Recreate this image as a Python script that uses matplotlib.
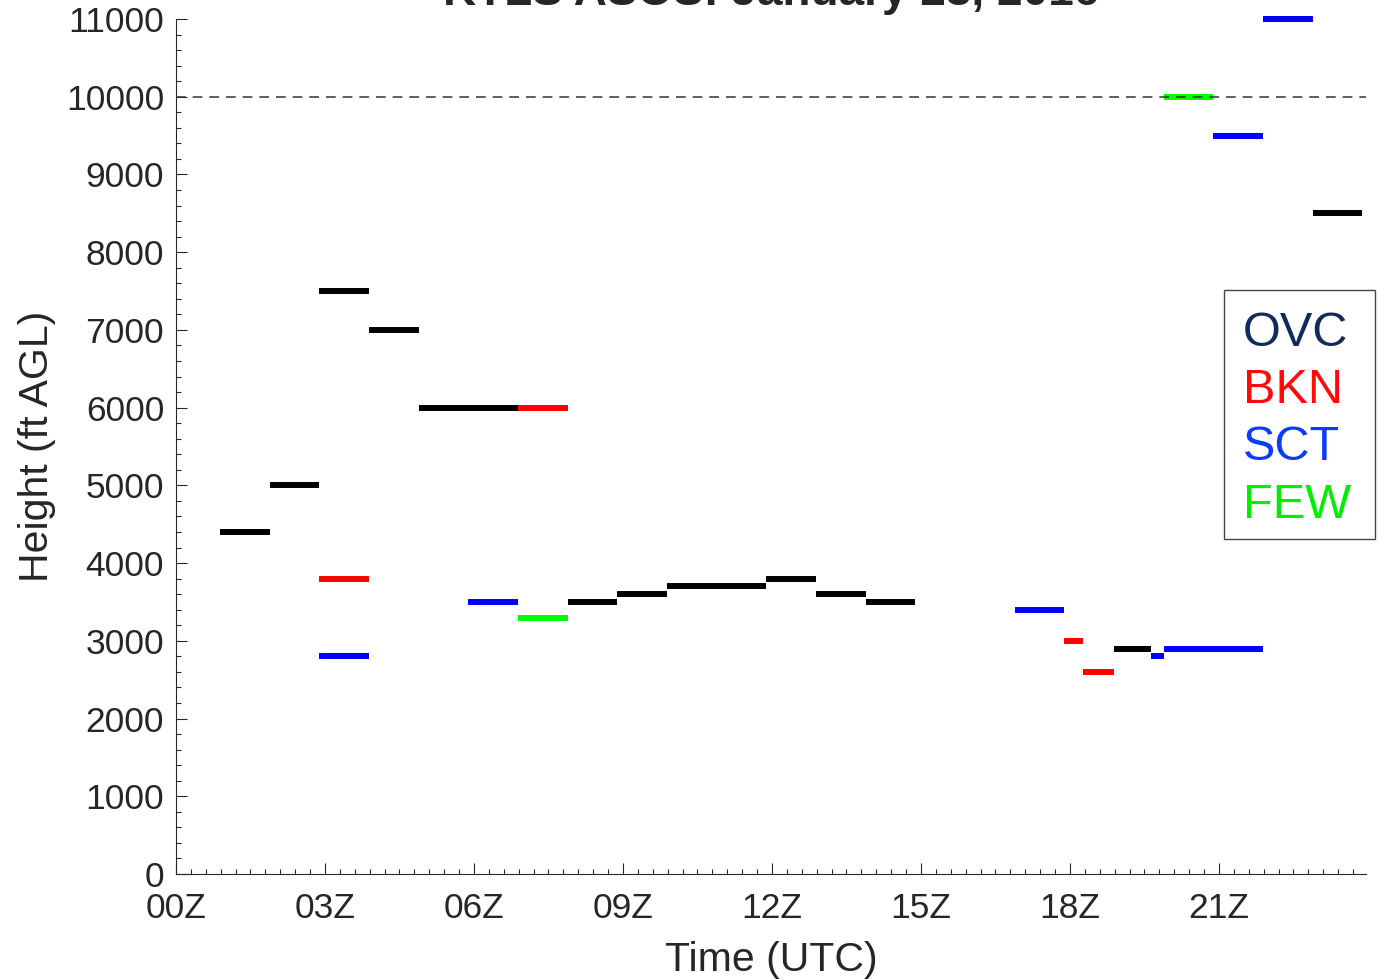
import matplotlib
matplotlib.use('Agg')
import matplotlib.pyplot as plt
from matplotlib.patches import Rectangle

plt.rcParams['font.family'] = ['Liberation Sans', 'DejaVu Sans']
plt.rcParams['lines.scale_dashes'] = False

# cloud layers from the hourly / special obs (times as HHMM UTC, heights ft AGL)
seg_start = ['0053', '0153', '0253', '0253', '0253', '0353', '0453', '0553', '0653', '0653',
             '0753', '0853', '0953', '1153', '1253', '1353', '1653', '1753', '1816', '1853',
             '1938', '1953', '1953', '2053', '2153', '2253']
seg_end = ['0153', '0253', '0353', '0353', '0353', '0453', '0653', '0653', '0753', '0753',
           '0853', '0953', '1153', '1253', '1353', '1453', '1753', '1816', '1853', '1938',
           '1953', '2153', '2053', '2153', '2253', '2353']
seg_height = [4400, 5000, 7500, 3800, 2800, 7000, 6000, 3500, 6000, 3300,
              3500, 3600, 3700, 3800, 3600, 3500, 3400, 3000, 2600, 2900,
              2800, 2900, 10000, 9500, 11000, 8500]
seg_cover = ['OVC', 'OVC', 'OVC', 'BKN', 'SCT', 'OVC', 'OVC', 'SCT', 'BKN', 'FEW',
             'OVC', 'OVC', 'OVC', 'OVC', 'OVC', 'OVC', 'SCT', 'BKN', 'BKN', 'OVC',
             'SCT', 'SCT', 'FEW', 'SCT', 'SCT', 'OVC']

cover_names = ['OVC', 'BKN', 'SCT', 'FEW']
bar_colors = {'OVC': 'black', 'BKN': '#ff0000', 'SCT': '#0000ff', 'FEW': '#00ff00'}
text_colors = {'OVC': '#132b5c', 'BKN': '#ff0a0a', 'SCT': '#0a3cff', 'FEW': '#00ee00'}

hour_ticks = [0, 3, 6, 9, 12, 15, 18, 21]
hour_labels = ['00Z', '03Z', '06Z', '09Z', '12Z', '15Z', '18Z', '21Z']
ref_height = 10000


def hhmm(s):
    return int(s[:2]) + int(s[2:]) / 60.0


fig = plt.figure(figsize=(13.84, 9.8), dpi=100)
ax = fig.add_axes([176 / 1384, 1 - 874 / 980, 1190 / 1384, 855 / 980])

for t0, t1, h, c in zip(seg_start, seg_end, seg_height, seg_cover):
    ax.hlines(h, hhmm(t0), hhmm(t1), colors=bar_colors[c], linewidth=4.3,
              capstyle='butt', zorder=2, clip_on=False)

ax.plot([0, 24], [ref_height, ref_height], color='#333333', linewidth=1.1,
        dashes=(7.0, 5.0), zorder=3)

ax.set_xlim(0, 23.96)
ax.set_ylim(0, 11000)
ax.set_xticks(hour_ticks)
ax.set_xticklabels(hour_labels)
ax.set_xticks([i * 0.3 for i in range(80)], minor=True)
ax.set_yticks(range(0, 11001, 1000))
ax.set_yticks(range(0, 11001, 200), minor=True)

for s in ['top', 'right']:
    ax.spines[s].set_visible(False)
for s in ['left', 'bottom']:
    ax.spines[s].set_color('#262626')
    ax.spines[s].set_linewidth(0.8)

ax.tick_params(which='major', direction='in', length=7.7, width=0.8, color='#262626',
               labelsize=25.5, labelcolor='#262626')
ax.tick_params(which='minor', direction='in', length=3.8, width=0.8, color='#262626')
ax.tick_params(axis='y', pad=8.5)
ax.tick_params(axis='x', pad=13)

ax.text(0.5, (874 - 941) / 855, 'Time (UTC)', transform=ax.transAxes, ha='center',
        va='top', fontsize=29.5, color='#262626')
ax.text((37 - 176) / 1190, 0.5, 'Height (ft AGL)', transform=ax.transAxes, ha='center',
        va='center', rotation=90, fontsize=29.5, color='#262626')

# title sits mostly above the top edge
fig.text(771 / 1384, 1 - 5 / 980, 'KTLS ASOS: January 23, 2016', ha='center',
         va='baseline', fontsize=33, fontweight='bold', color='#262626')

# legend box with coloured labels
fig.patches.append(Rectangle((1223.5 / 1384, 1 - 539 / 980), 151.5 / 1384, 249 / 980,
                             transform=fig.transFigure, facecolor='white',
                             edgecolor='#444444', linewidth=1.0, zorder=5))
baselines = [346, 403, 460, 518]
for name, yb in zip(cover_names, baselines):
    fig.text(1243 / 1384, 1 - yb / 980, name, ha='left', va='baseline',
             fontsize=35, color=text_colors[name], zorder=6)

plt.savefig('out.png', dpi=100)
